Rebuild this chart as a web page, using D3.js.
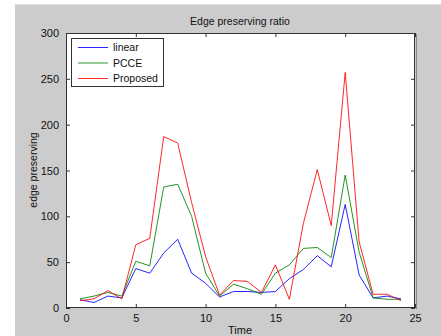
<!DOCTYPE html>
<html>
<head>
<meta charset="utf-8">
<script src="https://cdn.jsdelivr.net/npm/d3@7"></script>
<style>
	body { margin: 0; background: #fff; }
	svg { display: block; }
	text { font-family: "Liberation Sans", Arial, sans-serif; fill: #111; }
	.axis line, .axis path { stroke: #333; }
</style>
</head>
<body>
<div id="chart"></div>
<script>

	// values
	var times = [1, 2, 3, 4, 5, 6, 7, 8, 9, 10, 11, 12, 13, 14, 15, 16, 17, 18, 19, 20, 21, 22, 23, 24];
	var linear = [9, 6, 13, 11, 43, 38, 60, 75, 38, 27, 12, 18, 18, 17, 18, 32, 42, 57, 45, 113, 36, 11, 13, 10];
	var pcce = [10, 13, 17, 13, 51, 46, 132, 135, 100, 38, 13, 26, 21, 15, 38, 47, 65, 66, 55, 145, 61, 11, 9.5, 9.5];
	var proposed = [8, 10, 19, 10, 69, 76, 187, 180, 115, 56, 14, 30, 29, 17, 47, 9.5, 92, 151, 90, 257, 72, 15, 15, 8];
	var seriesNames = ["linear", "PCCE", "Proposed"];
	var seriesColors = ["#0000ff", "#008000", "#ff0000"];
	var xTicks = [0, 5, 10, 15, 20, 25];
	var yTicks = [0, 50, 100, 150, 200, 250, 300];

	function drawChart(el) {
		var width = 441, height = 336;
		var mLeft = 66, mRight = 415, mTop = 33, mBottom = 308;

		var svg = d3.select(el)
			.append("svg")
			.attr("width", width)
			.attr("height", height);

		// figure background (grey window like matlab)
		svg.append("rect")
			.attr("x", 15).attr("y", 4)
			.attr("width", width - 15).attr("height", height - 4)
			.attr("fill", "#cccccc");
		svg.append("line")
			.attr("x1", 15).attr("x2", width).attr("y1", 4.5).attr("y2", 4.5)
			.attr("stroke", "#e2e2e2");

		var x = d3.scaleLinear().domain([0, 25]).range([mLeft, mRight]);
		var y = d3.scaleLinear().domain([0, 300]).range([mBottom, mTop]);

		svg.append("rect")
			.attr("x", mLeft).attr("y", mTop)
			.attr("width", mRight - mLeft).attr("height", mBottom - mTop)
			.attr("fill", "#fff");

		// axes, ticks pointing inward
		svg.append("g").attr("class", "axis")
			.attr("transform", "translate(0," + mBottom + ")")
			.call(d3.axisBottom(x).tickValues(xTicks).tickSizeInner(-4).tickSizeOuter(0).tickPadding(5))
			.call(function(g) { g.selectAll("text").attr("font-size", 11).attr("dy", "0.85em"); });

		svg.append("g").attr("class", "axis")
			.attr("transform", "translate(0," + mTop + ")")
			.call(d3.axisTop(x).tickValues(xTicks).tickSizeInner(-4).tickSizeOuter(0).tickFormat(""));

		svg.append("g").attr("class", "axis")
			.attr("transform", "translate(" + mLeft + ",0)")
			.call(d3.axisLeft(y).tickValues(yTicks).tickSizeInner(-4).tickSizeOuter(0).tickPadding(7))
			.call(function(g) { g.selectAll("text").attr("font-size", 11); });

		svg.append("g").attr("class", "axis")
			.attr("transform", "translate(" + mRight + ",0)")
			.call(d3.axisRight(y).tickValues(yTicks).tickSizeInner(-4).tickSizeOuter(0).tickFormat(""));

		svg.selectAll(".axis .domain").remove();

		// box
		svg.append("rect")
			.attr("x", mLeft + 0.5).attr("y", mTop + 0.5)
			.attr("width", mRight - mLeft - 1).attr("height", mBottom - mTop - 1)
			.attr("fill", "none")
			.attr("stroke", "#333");
		svg.append("line")
			.attr("x1", mRight + 1.5).attr("x2", mRight + 1.5)
			.attr("y1", mTop + 1).attr("y2", mBottom + 1)
			.attr("stroke", "#888");

		// series
		var allSeries = [linear, pcce, proposed];
		var line = d3.line()
			.x(function(d, i) { return x(times[i]); })
			.y(function(d) { return y(d); });

		svg.append("g")
			.selectAll("path")
			.data(allSeries)
			.enter()
			.append("path")
			.attr("d", line)
			.attr("fill", "none")
			.attr("stroke", function(d, i) { return seriesColors[i]; })
			.attr("stroke-width", 1)
			.attr("stroke-opacity", 0.85);

		// legend
		var legend = svg.append("g");
		legend.append("rect")
			.attr("x", 71.5).attr("y", 38.5)
			.attr("width", 92).attr("height", 48)
			.attr("fill", "#fff")
			.attr("stroke", "#333");

		var item = legend.selectAll(".item")
			.data(seriesNames)
			.enter()
			.append("g")
			.attr("transform", function(d, i) { return "translate(0," + (47.5 + i * 15.5) + ")"; });
		item.append("line")
			.attr("x1", 78).attr("x2", 108)
			.attr("stroke", function(d, i) { return seriesColors[i]; })
			.attr("stroke-opacity", 0.85);
		item.append("text")
			.attr("x", 113).attr("dy", "0.35em")
			.attr("font-size", 10.5)
			.text(function(d) { return d; });

		// titles
		svg.append("text")
			.attr("x", 240).attr("y", 25)
			.attr("text-anchor", "middle")
			.attr("font-size", 10.5)
			.text("Edge preserving ratio");

		svg.append("text")
			.attr("x", 240).attr("y", 334)
			.attr("text-anchor", "middle")
			.attr("font-size", 11)
			.text("Time");

		svg.append("text")
			.attr("transform", "translate(37,170) rotate(-90)")
			.attr("text-anchor", "middle")
			.attr("font-size", 10.5)
			.text("edge preserving");
	}

	drawChart(document.getElementById("chart"));

</script>
</body>
</html>
